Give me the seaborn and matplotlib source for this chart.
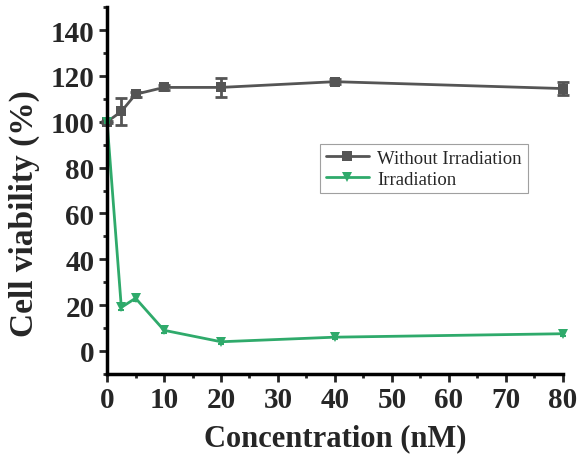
import matplotlib
matplotlib.use("Agg")
import matplotlib.pyplot as plt
import seaborn as sns
import pandas as pd
from matplotlib.ticker import MultipleLocator

conc = [0, 2.5, 5, 10, 20, 40, 80]
without_irr = [100, 104.5, 112, 115, 115, 117.5, 114.5]
without_err = [0.5, 6.0, 1.0, 1.0, 4.0, 1.2, 3.0]
irr = [100, 19, 23, 9, 4, 6, 7.5]
irr_err = [0.5, 1.0, 1.0, 1.0, 0.8, 0.8, 0.8]

sns.set_style("ticks")
plt.rcParams['font.family'] = ['Liberation Serif', 'DejaVu Serif']

grey = '#555555'
green = '#2faa6b'

fig = plt.figure(figsize=(5.82, 4.56), dpi=100)
ax = fig.add_axes([0.184, 0.178, 0.783, 0.804])

df = pd.DataFrame({
    'conc': conc * 2,
    'val': without_irr + irr,
    'group': ['Without Irradiation'] * len(conc) + ['Irradiation'] * len(conc),
})

sns.lineplot(data=df, x='conc', y='val', hue='group', style='group',
             markers={'Without Irradiation': 's', 'Irradiation': 'v'},
             dashes=False, palette={'Without Irradiation': grey, 'Irradiation': green},
             markersize=7.5, linewidth=2, markeredgewidth=0, ax=ax, clip_on=False)

ax.errorbar(conc, without_irr, yerr=without_err, fmt='none', ecolor=grey,
            elinewidth=2, capsize=4, capthick=2, clip_on=False)
ax.errorbar(conc, irr, yerr=irr_err, fmt='none', ecolor=green,
            elinewidth=1.5, capsize=2, capthick=1.5, clip_on=False)

ax.set_xlim(0, 80)
ax.set_ylim(-10, 150)
ax.set_xticks([0, 10, 20, 30, 40, 50, 60, 70, 80])
ax.set_yticks([0, 20, 40, 60, 80, 100, 120, 140])
ax.xaxis.set_minor_locator(MultipleLocator(5))
ax.yaxis.set_minor_locator(MultipleLocator(10))
ax.tick_params(which='major', direction='out', length=6, width=2, labelsize=21, pad=3)
ax.tick_params(which='minor', direction='out', length=3, width=2)
for lab in ax.get_xticklabels() + ax.get_yticklabels():
    lab.set_fontweight('bold')

for s in ['top', 'right']:
    ax.spines[s].set_visible(False)
for s in ['left', 'bottom']:
    ax.spines[s].set_linewidth(2.5)
    ax.spines[s].set_color('black')

ax.set_xlabel('Concentration (nM)', fontsize=22, fontweight='bold', labelpad=7)
ax.set_ylabel('Cell viability (%)', fontsize=24, fontweight='bold')
ax.yaxis.set_label_coords(-0.148, 0.44)

leg = ax.legend(loc='upper left', bbox_to_anchor=(0.550, 0.682),
                bbox_transform=fig.transFigure, fontsize=13.5, borderaxespad=0,
                frameon=True, fancybox=False, edgecolor='#888888',
                handlelength=2.3, borderpad=0.3, labelspacing=0.2,
                handletextpad=0.45)
leg.get_frame().set_linewidth(0.8)

fig.savefig('out.png', dpi=100)
